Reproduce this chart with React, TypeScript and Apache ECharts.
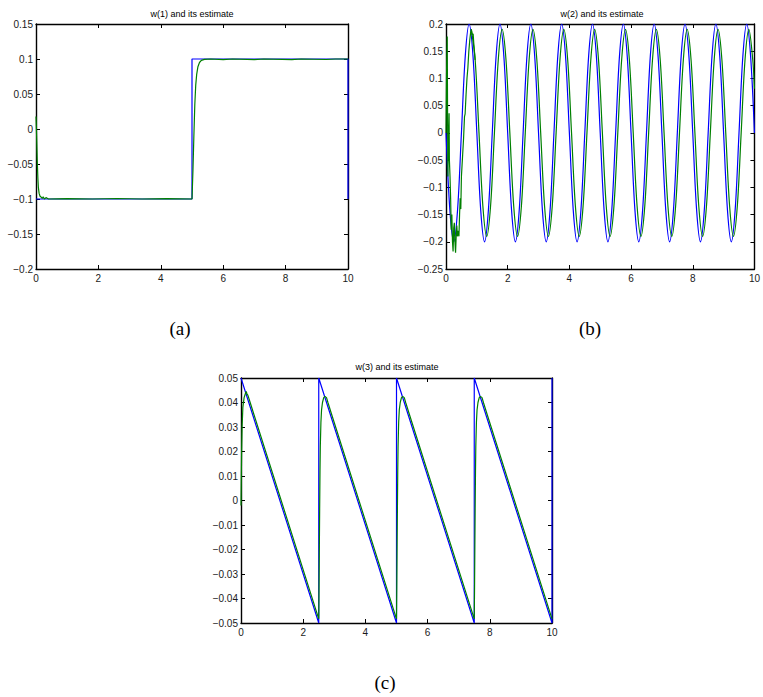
import React, { useEffect, useRef } from "react";
import * as echarts from "echarts";

// ---------- data ----------
const TITLES = ["w(1) and its estimate", "w(2) and its estimate", "w(3) and its estimate"];
const PANEL_LABELS = ["(a)", "(b)", "(c)"];
const X_RANGE = [0, 10];
const X_INTERVAL = 2;
const Y_RANGES: [number, number, number][] = [
  [-0.2, 0.15, 0.05],
  [-0.25, 0.2, 0.05],
  [-0.05, 0.05, 0.01],
];

// (a) w(1): true value (blue) and estimate (green)
const A_TRUE: [number, number][] = [
  [0, -0.1], [5, -0.1], [5, 0.1], [10, 0.1], [10, -0.1],
];
const A_EST: [number, number][] = [
  [0, 0.018], [0.02, -0.01], [0.04, -0.045], [0.06, -0.07], [0.075, -0.083], [0.1, -0.092],
  [0.13, -0.096], [0.16, -0.097], [0.2, -0.099], [0.23, -0.097], [0.27, -0.1], [0.32, -0.098],
  [0.4, -0.1], [1.0, -0.0995], [1.8, -0.1], [2.6, -0.0993], [3.4, -0.1], [4.2, -0.0995], [5.0, -0.1],
  [5.03, -0.06], [5.06, -0.01], [5.09, 0.035], [5.12, 0.063], [5.15, 0.078], [5.19, 0.089],
  [5.24, 0.095], [5.3, 0.098], [5.4, 0.0995], [5.6, 0.1], [6.0, 0.099], [6.3, 0.1], [7.0, 0.0992],
  [7.3, 0.1], [8.2, 0.0992], [8.5, 0.1], [9.3, 0.0993], [9.6, 0.1], [10, 0.1],
];

// (b) w(2): true value (blue)
const B_TRUE: [number, number][] = [
  [0, 0], [0.125, -0.1414], [0.25, -0.2], [0.375, -0.1414], [0.5, 0], [0.625, 0.1414], [0.75, 0.2], [0.875, 0.1414],
  [1, 0], [1.125, -0.1414], [1.25, -0.2], [1.375, -0.1414], [1.5, 0], [1.625, 0.1414], [1.75, 0.2], [1.875, 0.1414],
  [2, 0], [2.125, -0.1414], [2.25, -0.2], [2.375, -0.1414], [2.5, 0], [2.625, 0.1414], [2.75, 0.2], [2.875, 0.1414],
  [3, 0], [3.125, -0.1414], [3.25, -0.2], [3.375, -0.1414], [3.5, 0], [3.625, 0.1414], [3.75, 0.2], [3.875, 0.1414],
  [4, 0], [4.125, -0.1414], [4.25, -0.2], [4.375, -0.1414], [4.5, 0], [4.625, 0.1414], [4.75, 0.2], [4.875, 0.1414],
  [5, 0], [5.125, -0.1414], [5.25, -0.2], [5.375, -0.1414], [5.5, 0], [5.625, 0.1414], [5.75, 0.2], [5.875, 0.1414],
  [6, 0], [6.125, -0.1414], [6.25, -0.2], [6.375, -0.1414], [6.5, 0], [6.625, 0.1414], [6.75, 0.2], [6.875, 0.1414],
  [7, 0], [7.125, -0.1414], [7.25, -0.2], [7.375, -0.1414], [7.5, 0], [7.625, 0.1414], [7.75, 0.2], [7.875, 0.1414],
  [8, 0], [8.125, -0.1414], [8.25, -0.2], [8.375, -0.1414], [8.5, 0], [8.625, 0.1414], [8.75, 0.2], [8.875, 0.1414],
  [9, 0], [9.125, -0.1414], [9.25, -0.2], [9.375, -0.1414], [9.5, 0], [9.625, 0.1414], [9.75, 0.2], [9.875, 0.1414],
  [10, 0],
];
// (b) estimate: noisy start-up transient
const B_EST_START: [number, number][] = [
  [0, 0.0], [0.02, 0.12], [0.04, 0.177], [0.05, 0.05], [0.06, -0.08], [0.08, -0.02], [0.1, 0.036],
  [0.11, -0.05], [0.13, -0.08], [0.15, -0.12], [0.17, -0.178], [0.19, -0.15], [0.21, -0.2],
  [0.23, -0.218], [0.25, -0.175], [0.27, -0.165], [0.29, -0.2], [0.31, -0.22], [0.33, -0.19],
  [0.35, -0.17], [0.37, -0.19], [0.39, -0.18], [0.42, -0.19], [0.44, -0.15], [0.46, -0.12],
  [0.48, -0.14], [0.5, -0.08], [0.52, -0.06], [0.54, -0.04], [0.57, -0.01], [0.6, 0.03],
  [0.62, 0.035], [0.65, 0.07], [0.68, 0.1], [0.71, 0.12], [0.74, 0.15], [0.77, 0.17],
  [0.8, 0.185], [0.82, 0.19], [0.85, 0.18], [0.88, 0.182], [0.9, 0.165], [0.945, 0.134],
];
// (b) estimate: settled tracking
const B_EST: [number, number][] = [
  [0.82, 0.19], [0.945, 0.1343], [1.07, 0], [1.195, -0.1343], [1.32, -0.19], [1.445, -0.1343], [1.57, 0], [1.695, 0.1343],
  [1.82, 0.19], [1.945, 0.1343], [2.07, 0], [2.195, -0.1343], [2.32, -0.19], [2.445, -0.1343], [2.57, 0], [2.695, 0.1343],
  [2.82, 0.19], [2.945, 0.1343], [3.07, 0], [3.195, -0.1343], [3.32, -0.19], [3.445, -0.1343], [3.57, 0], [3.695, 0.1343],
  [3.82, 0.19], [3.945, 0.1343], [4.07, 0], [4.195, -0.1343], [4.32, -0.19], [4.445, -0.1343], [4.57, 0], [4.695, 0.1343],
  [4.82, 0.19], [4.945, 0.1343], [5.07, 0], [5.195, -0.1343], [5.32, -0.19], [5.445, -0.1343], [5.57, 0], [5.695, 0.1343],
  [5.82, 0.19], [5.945, 0.1343], [6.07, 0], [6.195, -0.1343], [6.32, -0.19], [6.445, -0.1343], [6.57, 0], [6.695, 0.1343],
  [6.82, 0.19], [6.945, 0.1343], [7.07, 0], [7.195, -0.1343], [7.32, -0.19], [7.445, -0.1343], [7.57, 0], [7.695, 0.1343],
  [7.82, 0.19], [7.945, 0.1343], [8.07, 0], [8.195, -0.1343], [8.32, -0.19], [8.445, -0.1343], [8.57, 0], [8.695, 0.1343],
  [8.82, 0.19], [8.945, 0.1343], [9.07, 0], [9.195, -0.1343], [9.32, -0.19], [9.445, -0.1343], [9.57, 0], [9.695, 0.1343],
  [9.82, 0.19], [9.945, 0.1343], [10, 0.081],
];

// (c) w(3): sawtooth (blue) and estimate (green)
const C_TRUE: [number, number][] = [
  [0, 0.05], [2.5, -0.05], [2.5, 0.05], [5, -0.05], [5, 0.05], [7.5, -0.05], [7.5, 0.05], [10, -0.05], [10, 0.05],
];
const C_EST: [number, number][] = [
  [0, -0.002], [0.01, 0.01], [0.02, 0.02], [0.035, 0.03], [0.06, 0.038], [0.1, 0.042], [0.15, 0.044],
  [0.17, 0.0445], [0.19, 0.0435], [0.22, 0.043], [0.3, 0.0398], [0.4, 0.0357], [2.5, -0.0483],
  [2.51, -0.035], [2.52, -0.018], [2.53, -0.002], [2.54, 0.012], [2.55, 0.022], [2.57, 0.032], [2.59, 0.037],
  [2.62, 0.04], [2.66, 0.042], [2.7, 0.0425], [2.75, 0.042], [2.8, 0.0398], [2.9, 0.0357], [5.0, -0.0483],
  [5.01, -0.035], [5.02, -0.018], [5.03, -0.002], [5.04, 0.012], [5.05, 0.022], [5.07, 0.032], [5.09, 0.037],
  [5.12, 0.04], [5.16, 0.042], [5.2, 0.0425], [5.25, 0.042], [5.3, 0.0398], [5.4, 0.0357], [7.5, -0.0483],
  [7.51, -0.035], [7.52, -0.018], [7.53, -0.002], [7.54, 0.012], [7.55, 0.022], [7.57, 0.032], [7.59, 0.037],
  [7.62, 0.04], [7.66, 0.042], [7.7, 0.0425], [7.75, 0.042], [7.8, 0.0398], [7.9, 0.0357], [10, -0.0483],
];

// ---------- layout ----------
const GRIDS = [
  { left: 36, top: 24, width: 312, height: 245 },
  { left: 446, top: 24, width: 312, height: 245 },
  { left: 241, top: 378, width: 311, height: 245 },
];
const TITLE_POS = [[192, 14], [602, 14], [397, 367]];
const LABEL_POS = [[180, 328], [590, 328], [385, 682]];

const BLUE = "#0000ff";
const GREEN = "#008000";
const FONT = "'Liberation Sans', Arial, Helvetica, sans-serif";

function fmtY(v: number): string {
  const s = parseFloat(Math.abs(v).toFixed(4)).toString();
  return v < -1e-9 ? "\u2212" + s : s;
}

export default function App() {
  const ref = useRef<HTMLDivElement>(null);
  useEffect(() => {
    const chart = echarts.init(ref.current!, null, { renderer: "svg" });
    const axisLine = { show: true, onZero: false, lineStyle: { color: "#000", width: 1.4 } };
    const axisTick = { show: true, inside: true, length: 4, lineStyle: { color: "#000", width: 1 } };
    const xAxes: any[] = [];
    const yAxes: any[] = [];
    GRIDS.forEach((_, gi) => {
      const [yMin, yMax, yInt] = Y_RANGES[gi];
      const baseX = {
        type: "value", gridIndex: gi, min: X_RANGE[0], max: X_RANGE[1], interval: X_INTERVAL,
        axisLine, axisTick, splitLine: { show: false },
      };
      xAxes.push({
        ...baseX, position: "bottom",
        axisLabel: { show: true, fontSize: 10, color: "#1a1a1a", fontFamily: FONT, margin: 4 },
      });
      xAxes.push({ ...baseX, position: "top", axisLabel: { show: false } });
      const baseY = {
        type: "value", gridIndex: gi, min: yMin, max: yMax, interval: yInt,
        axisLine, axisTick, splitLine: { show: false },
      };
      yAxes.push({
        ...baseY, position: "left",
        axisLabel: { show: true, fontSize: 10, color: "#1a1a1a", fontFamily: FONT, margin: 3, formatter: fmtY },
      });
      yAxes.push({ ...baseY, position: "right", axisLabel: { show: false } });
    });

    const line = (data: [number, number][], gi: number, color: string, smooth: number | boolean = false) => ({
      type: "line",
      xAxisIndex: gi * 2,
      yAxisIndex: gi * 2,
      data,
      showSymbol: false,
      symbol: "none",
      smooth,
      lineStyle: { color, width: 1.2 },
      itemStyle: { color },
      silent: true,
    });

    const graphics: any[] = [];
    TITLES.forEach((t, i) => {
      graphics.push({
        type: "text", x: TITLE_POS[i][0], y: TITLE_POS[i][1],
        style: {
          text: t, font: `9px ${FONT}`, fill: "#000",
          align: "center", verticalAlign: "middle", textAlign: "center", textVerticalAlign: "middle",
        },
      });
    });
    PANEL_LABELS.forEach((t, i) => {
      graphics.push({
        type: "text", x: LABEL_POS[i][0], y: LABEL_POS[i][1],
        style: {
          text: t, font: `19px 'Liberation Serif', 'DejaVu Serif', serif`, fill: "#000",
          align: "center", verticalAlign: "middle", textAlign: "center", textVerticalAlign: "middle",
        },
      });
    });

    chart.setOption({
      animation: false,
      backgroundColor: "#fff",
      grid: GRIDS.map((g) => ({ ...g, containLabel: false })),
      xAxis: xAxes,
      yAxis: yAxes,
      series: [
        line(A_TRUE, 0, BLUE),
        line(A_EST, 0, GREEN),
        line(B_TRUE, 1, BLUE, 0.33),
        line(B_EST_START, 1, GREEN),
        line(B_EST, 1, GREEN, 0.33),
        line(C_TRUE, 2, BLUE),
        line(C_EST, 2, GREEN),
      ],
      graphic: graphics,
    });
    return () => chart.dispose();
  }, []);
  return (
    <div
      ref={ref}
      style={{ position: "absolute", left: 0, top: 0, width: 763, height: 697, background: "#fff" }}
    />
  );
}
